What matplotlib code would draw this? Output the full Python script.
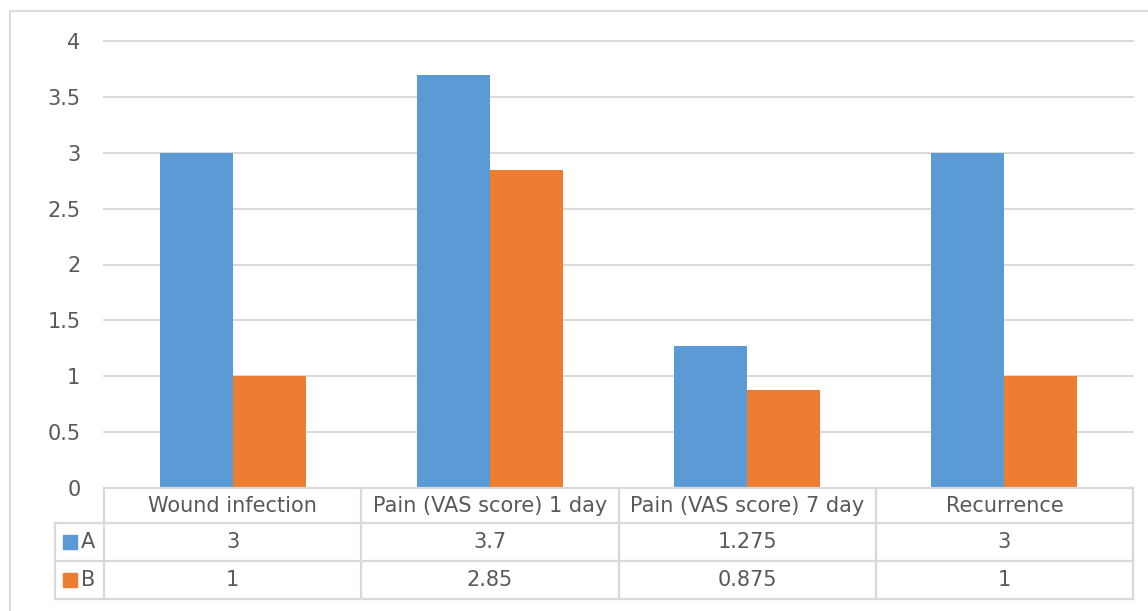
import matplotlib
matplotlib.use("Agg")
import matplotlib.pyplot as plt
from matplotlib.lines import Line2D
from matplotlib.patches import Rectangle
import numpy as np

categories = ["Wound infection", "Pain (VAS score) 1 day", "Pain (VAS score) 7 day", "Recurrence"]
series_names = ["A", "B"]
values_a = [3, 3.7, 1.275, 3]
values_b = [1, 2.85, 0.875, 1]
value_labels_a = ["3", "3.7", "1.275", "3"]
value_labels_b = ["1", "2.85", "0.875", "1"]
y_ticks = [0, 0.5, 1, 1.5, 2, 2.5, 3, 3.5, 4]
y_tick_labels = ["0", "0.5", "1", "1.5", "2", "2.5", "3", "3.5", "4"]

BLUE = "#5B9BD5"
ORANGE = "#ED7D31"
GRID = "#D9D9D9"
TEXT = "#595959"
FONT = 15

W, H = 1148, 611
fig = plt.figure(figsize=(W / 100, H / 100), dpi=100)
plt.rcParams["font.family"] = ["DejaVu Sans"]

def fx(px):
    return px / W

def fy(py):
    return 1 - py / H

# plot area in pixel coordinates
left, right, top, bottom = 104, 1133, 41, 488
ax = fig.add_axes([fx(left), fy(bottom), fx(right) - fx(left), fy(top) - fy(bottom)])

n = len(categories)
x = np.arange(n)
bw = 0.2835
ax.bar(x - bw / 2, values_a, bw, color=BLUE, zorder=3)
ax.bar(x + bw / 2, values_b, bw, color=ORANGE, zorder=3)

ax.set_xlim(-0.5, n - 0.5)
ax.set_ylim(0, 4)
ax.set_yticks(y_ticks)
ax.set_yticklabels(y_tick_labels, color=TEXT, fontsize=FONT)
ax.set_xticks([])
ax.tick_params(axis="y", length=0, pad=17)
for t in y_ticks[1:]:
    ax.axhline(t, color=GRID, linewidth=1.4, zorder=0, clip_on=False)
for s in ax.spines.values():
    s.set_visible(False)

# outer chart border
fig.add_artist(Line2D([fx(10), fx(10)], [fy(11), 0], color=GRID, lw=1.3))
fig.add_artist(Line2D([fx(10), 1], [fy(11), fy(11)], color=GRID, lw=1.3))

# data table below the axis
row_y = [488, 523, 561, 599]
label_left = 55
col_edges = [left + (right - left) * i / n for i in range(n + 1)]
lw = 1.6
# horizontal rules
fig.add_artist(Line2D([fx(left), fx(right)], [fy(row_y[0])] * 2, color=GRID, lw=lw))
for ry in row_y[1:]:
    fig.add_artist(Line2D([fx(label_left), fx(right)], [fy(ry)] * 2, color=GRID, lw=lw))
# vertical rules
for cx in col_edges:
    fig.add_artist(Line2D([fx(cx)] * 2, [fy(row_y[0]), fy(row_y[-1])], color=GRID, lw=lw))
fig.add_artist(Line2D([fx(label_left)] * 2, [fy(row_y[1]), fy(row_y[-1])], color=GRID, lw=lw))

def row_center(i):
    return (row_y[i] + row_y[i + 1]) / 2

for i, cat in enumerate(categories):
    xc = (col_edges[i] + col_edges[i + 1]) / 2
    fig.text(fx(xc), fy(row_center(0)), cat, ha="center", va="center", color=TEXT, fontsize=FONT)
    fig.text(fx(xc), fy(row_center(1)), value_labels_a[i], ha="center", va="center", color=TEXT, fontsize=FONT)
    fig.text(fx(xc), fy(row_center(2)), value_labels_b[i], ha="center", va="center", color=TEXT, fontsize=FONT)

# legend keys inside the table's row headers
for r, (name, col) in enumerate(zip(series_names, [BLUE, ORANGE])):
    cy = row_center(r + 1)
    fig.add_artist(Rectangle((fx(63), fy(cy + 7)), fx(14), fy(0) - fy(14), color=col,
                             transform=fig.transFigure))
    fig.text(fx(81), fy(cy), name, ha="left", va="center", color=TEXT, fontsize=FONT)

fig.savefig("out.png", dpi=100, facecolor="white")
